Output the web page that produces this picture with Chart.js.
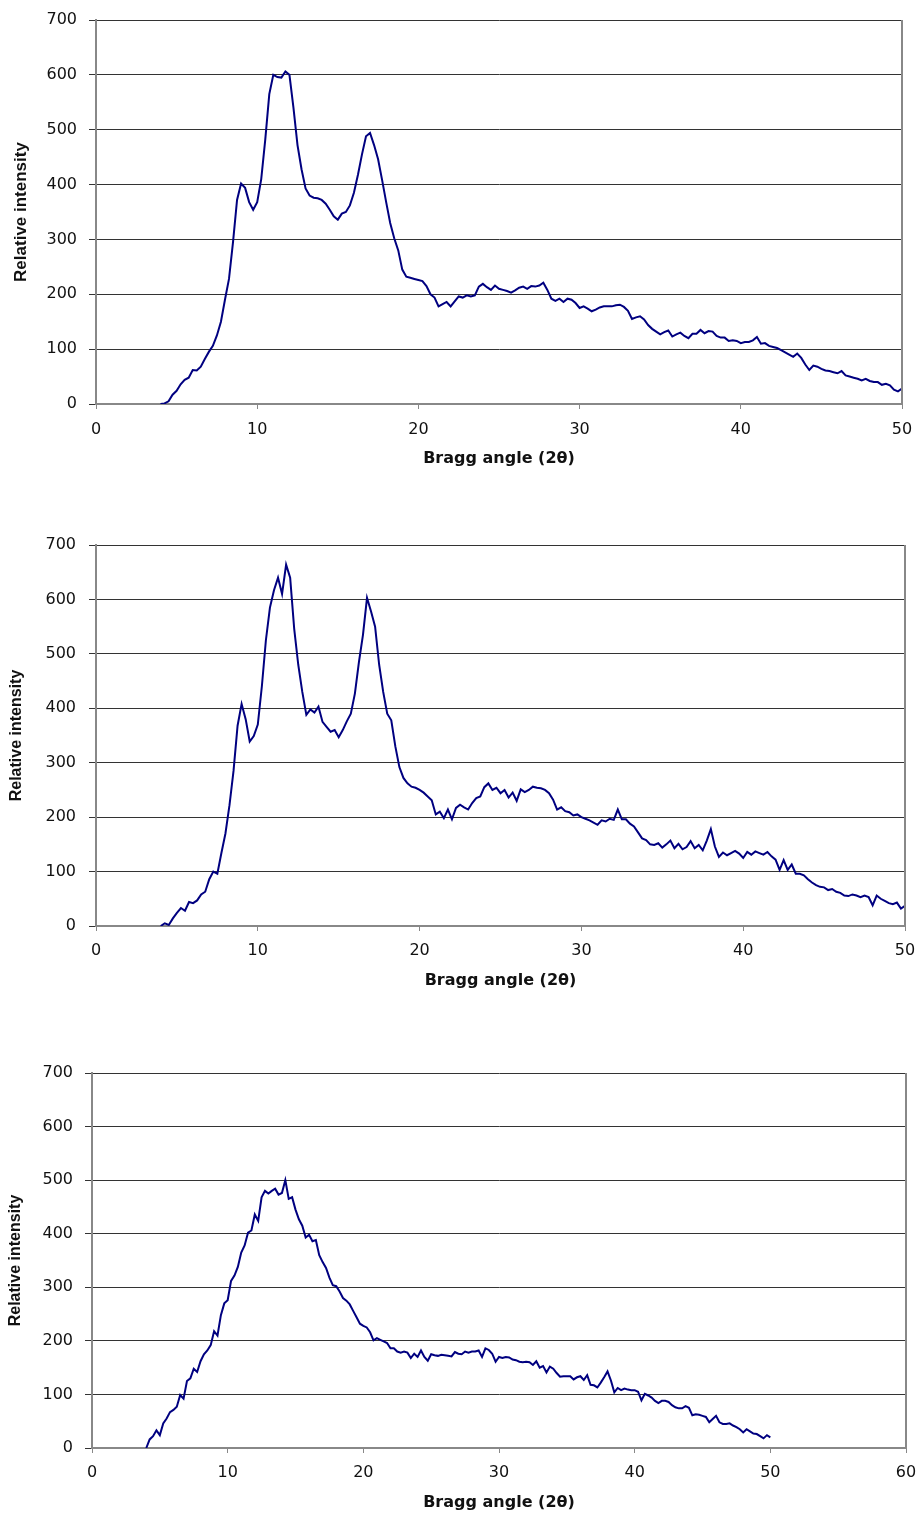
<!DOCTYPE html>
<html>
<head>
<meta charset="utf-8">
<title>XRD patterns</title>
<script src="https://cdn.jsdelivr.net/npm/chart.js@4.4.0/dist/chart.umd.min.js"></script>
<style>
  html, body { margin: 0; padding: 0; background: #fff; }
  body { width: 919px; height: 1513px; position: relative; overflow: hidden; }
  canvas { position: absolute; left: 0; }
</style>
</head>
<body>
<canvas id="xrd1" width="919" height="475" style="top:0px"></canvas>
<canvas id="xrd2" width="919" height="480" style="top:520px"></canvas>
<canvas id="xrd3" width="919" height="463" style="top:1050px"></canvas>
<script>
// Bragg angle (2 theta) sampling, shared by all three patterns
const angles = [
  4, 4.25, 4.5, 4.75, 5, 5.25, 5.5, 5.75, 6, 6.25, 6.5, 6.75, 7, 7.25, 7.5, 7.75,
  8, 8.25, 8.5, 8.75, 9, 9.25, 9.5, 9.75, 10, 10.25, 10.5, 10.75, 11, 11.25, 11.5, 11.75,
  12, 12.25, 12.5, 12.75, 13, 13.25, 13.5, 13.75, 14, 14.25, 14.5, 14.75, 15, 15.25, 15.5, 15.75,
  16, 16.25, 16.5, 16.75, 17, 17.25, 17.5, 17.75, 18, 18.25, 18.5, 18.75, 19, 19.25, 19.5, 19.75,
  20, 20.25, 20.5, 20.75, 21, 21.25, 21.5, 21.75, 22, 22.25, 22.5, 22.75, 23, 23.25, 23.5, 23.75,
  24, 24.25, 24.5, 24.75, 25, 25.25, 25.5, 25.75, 26, 26.25, 26.5, 26.75, 27, 27.25, 27.5, 27.75,
  28, 28.25, 28.5, 28.75, 29, 29.25, 29.5, 29.75, 30, 30.25, 30.5, 30.75, 31, 31.25, 31.5, 31.75,
  32, 32.25, 32.5, 32.75, 33, 33.25, 33.5, 33.75, 34, 34.25, 34.5, 34.75, 35, 35.25, 35.5, 35.75,
  36, 36.25, 36.5, 36.75, 37, 37.25, 37.5, 37.75, 38, 38.25, 38.5, 38.75, 39, 39.25, 39.5, 39.75,
  40, 40.25, 40.5, 40.75, 41, 41.25, 41.5, 41.75, 42, 42.25, 42.5, 42.75, 43, 43.25, 43.5, 43.75,
  44, 44.25, 44.5, 44.75, 45, 45.25, 45.5, 45.75, 46, 46.25, 46.5, 46.75, 47, 47.25, 47.5, 47.75,
  48, 48.25, 48.5, 48.75, 49, 49.25, 49.5, 49.75, 50
];

// top pattern
const intensity1 = [
  0, 1, 5, 17, 24, 36, 44, 48, 62, 61, 68, 82, 95, 106, 125, 150,
  190, 228, 295, 372, 402, 394, 368, 354, 368, 410, 482, 565, 600, 596, 595, 606,
  600, 540, 472, 428, 393, 380, 376, 375, 372, 365, 354, 342, 336, 347, 350, 362,
  385, 418, 455, 488, 494, 472, 446, 408, 368, 330, 302, 280, 245, 232, 230, 228,
  226, 224, 215, 200, 194, 178, 182, 186, 178, 187, 196, 194, 198, 196, 198, 214,
  219, 213, 208, 216, 210, 208, 206, 203, 207, 212, 214, 210, 215, 214, 216, 221,
  208, 192, 188, 192, 186, 192, 190, 184, 175, 178, 174, 169, 172, 176, 178, 178,
  178, 180, 181, 177, 170, 155, 158, 160, 154, 144, 137, 132, 127, 131, 134, 123,
  127, 130, 124, 120, 128, 128, 135, 129, 133, 132, 124, 121, 121, 115, 116, 115,
  111, 113, 113, 116, 122, 110, 111, 106, 104, 102, 98, 94, 90, 86, 92, 84,
  72, 62, 70, 68, 64, 61, 60, 58, 56, 60, 52, 50, 48, 46, 43, 46,
  42, 40, 40, 35, 37, 34, 26, 23, 28
];

// middle pattern
const intensity2 = [
  0, 5, 2, 14, 24, 33, 28, 44, 42, 47, 58, 63, 86, 100, 96, 134,
  170, 222, 285, 368, 408, 380, 339, 349, 370, 440, 525, 585, 617, 640, 610, 664,
  640, 546, 480, 430, 388, 398, 392, 403, 375, 366, 357, 360, 347, 360, 376, 390,
  427, 485, 535, 603, 578, 550, 480, 430, 390, 378, 330, 292, 272, 262, 256, 254,
  250, 245, 238, 231, 205, 210, 198, 214, 196, 217, 223, 218, 214, 226, 235, 238,
  255, 262, 250, 254, 244, 250, 236, 245, 230, 251, 246, 250, 256, 254, 253, 250,
  244, 232, 214, 218, 211, 209, 203, 205, 200, 197, 194, 190, 186, 194, 192, 197,
  195, 214, 196, 196, 188, 183, 172, 161, 158, 150, 149, 152, 144, 150, 157, 143,
  151, 141, 145, 156, 143, 149, 139, 157, 178, 146, 127, 135, 130, 134, 138, 133,
  125, 136, 131, 137, 134, 131, 136, 128, 122, 103, 121, 103, 113, 96, 96, 93,
  86, 80, 75, 72, 71, 66, 68, 63, 61, 56, 55, 58, 56, 53, 56, 53,
  38, 56, 50, 46, 42, 40, 43, 32, 37
];

// bottom pattern
const intensity3 = [
  0, 16, 22, 33, 24, 46, 55, 67, 71, 77, 99, 92, 125, 130, 148, 142,
  162, 175, 182, 192, 218, 210, 248, 270, 276, 312, 322, 338, 365, 378, 402, 406,
  436, 424, 468, 480, 475, 480, 484, 473, 476, 500, 465, 468, 445, 427, 415, 393,
  398, 386, 388, 360, 347, 336, 318, 304, 302, 292, 280, 275, 268, 256, 244, 232,
  228, 225, 216, 201, 205, 202, 199, 196, 186, 186, 180, 178, 180, 178, 168, 176,
  170, 182, 170, 163, 175, 173, 172, 174, 173, 172, 171, 179, 176, 175, 180, 178,
  180, 180, 182, 170, 186, 183, 176, 161, 170, 168, 170, 169, 165, 164, 161, 160,
  161, 160, 155, 162, 150, 153, 141, 152, 148, 140, 133, 134, 134, 134, 128, 132,
  134, 127, 136, 118, 117, 113, 122, 132, 143, 126, 104, 112, 108, 111, 109, 108,
  108, 105, 89, 101, 98, 94, 88, 84, 88, 88, 86, 80, 76, 74, 74, 78,
  75, 61, 63, 62, 60, 58, 48, 54, 60, 48, 45, 45, 46, 42, 39, 35,
  29, 35, 31, 27, 26, 22, 18, 24, 20
];

const xTitle = 'Bragg angle (2\u03b8)';
const yTitle = 'Relative intensity';
const lineColor = '#000080';

// right edge of the plot frame
const frameRight = {
  id: 'frameRight',
  afterDraw(chart) {
    const { ctx, chartArea: a } = chart;
    ctx.save();
    ctx.strokeStyle = '#888';
    ctx.lineWidth = 2;
    ctx.beginPath();
    ctx.moveTo(a.right, a.top);
    ctx.lineTo(a.right, a.bottom + 1);
    ctx.stroke();
    ctx.restore();
  }
};

function drawPattern(id, values, o) {
  return new Chart(document.getElementById(id), {
    type: 'line',
    data: {
      datasets: [{
        data: angles.map((a, i) => ({ x: a, y: values[i] })),
        borderColor: lineColor,
        borderWidth: 2,
        pointRadius: 0,
        tension: 0,
        fill: false
      }]
    },
    options: {
      responsive: false,
      animation: false,
      devicePixelRatio: 1,
      layout: { padding: { top: o.top, right: o.right, left: 0, bottom: 0 } },
      plugins: { legend: { display: false }, tooltip: { enabled: false } },
      scales: {
        x: {
          type: 'linear', min: 0, max: o.xMax,
          afterFit: s => { s.height = o.xHeight; },
          // padding 0 so the last label does not push the plot edge in;
          // the label drop comes from the line height instead
          ticks: { stepSize: 10, padding: 0, color: '#111',
                   font: { family: 'DejaVu Sans', size: 16, lineHeight: o.xLabelLH } },
          grid: { drawOnChartArea: false, tickLength: 5, color: '#888' },
          border: { color: '#888', width: 2 },
          title: {
            display: true, text: xTitle, color: '#111',
            font: { family: 'DejaVu Sans', size: 16, weight: 'bold' },
            padding: { top: 0, bottom: o.xTitlePad }
          }
        },
        y: {
          min: 0, max: 700,
          afterFit: s => { s.width = o.left; },
          ticks: { stepSize: 100, padding: o.yPad, color: '#111',
                   font: { family: 'DejaVu Sans', size: 16, lineHeight: 1 } },
          grid: { color: '#333', tickLength: 7 },
          border: { color: '#888', width: 2 },
          title: {
            display: true, text: yTitle, color: '#111',
            font: { family: 'Liberation Sans', size: o.yTitleSize, weight: 'bold' },
            padding: { top: o.yTitlePad, bottom: 0 }
          }
        }
      }
    },
    plugins: [frameRight]
  });
}

drawPattern('xrd1', intensity1, { top: 20, right: 17, left: 96, xHeight: 71, xMax: 50, xLabelLH: 2.625, xTitlePad: 7, yPad: 12, yTitleSize: 17, yTitlePad: 11 });
drawPattern('xrd2', intensity2, { top: 25, right: 14, left: 96, xHeight: 74, xMax: 50, xLabelLH: 2.5, xTitlePad: 10, yPad: 13, yTitleSize: 16, yTitlePad: 7 });
drawPattern('xrd3', intensity3, { top: 23, right: 13, left: 92, xHeight: 65, xMax: 60, xLabelLH: 2.5, xTitlePad: 1, yPad: 12, yTitleSize: 16, yTitlePad: 6 });
</script>
</body>
</html>
